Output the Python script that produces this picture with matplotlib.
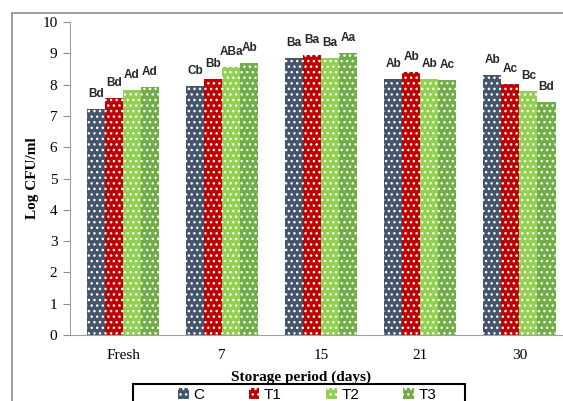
import numpy as np
import matplotlib.pyplot as plt
from matplotlib.patches import Rectangle

# data
periods = ['Fresh', '7', '15', '21', '30']
groups = ['C', 'T1', 'T2', 'T3']
C  = [7.23, 7.94, 8.84, 8.19, 8.30]
T1 = [7.57, 8.19, 8.94, 8.41, 8.01]
T2 = [7.83, 8.55, 8.84, 8.19, 7.80]
T3 = [7.91, 8.69, 9.01, 8.16, 7.45]
letters_C  = ['Bd', 'Cb', 'Ba', 'Ab', 'Ab']
letters_T1 = ['Bd', 'Bb', 'Ba', 'Ab', 'Ac']
letters_T2 = ['Ad', 'ABa', 'Ba', 'Ab', 'Bc']
letters_T3 = ['Ad', 'Ab', 'Aa', 'Ac', 'Bd']

colors = ['#44546A', '#C00000', '#92D050', '#70AD47']
serif = 'Liberation Serif'
sans = 'Liberation Sans'

plt.rcParams['hatch.linewidth'] = 1.0
fig = plt.figure(figsize=(5.63, 4.01), dpi=100)
ax = fig.add_axes([70/563, 1 - 335/401, 499/563, 313/401])

# outer chart frame (cropped at right and bottom)
fig.add_artist(Rectangle((12/563, -0.1), 1.2, 1 - 13/401 + 0.1,
                         transform=fig.transFigure, fill=False,
                         edgecolor='#8c8c8c', linewidth=1.2))

x = np.arange(len(periods))
w = 0.182
series = [C, T1, T2, T3]
letters = [letters_C, letters_T1, letters_T2, letters_T3]
for i, (vals, lab, col) in enumerate(zip(series, groups, colors)):
    bars = ax.bar(x + (i - 1.5) * w, vals, w, color=col, edgecolor='white',
                  linewidth=0, hatch='...', label=lab)
    for b, t in zip(bars, letters[i]):
        ax.annotate(t, (b.get_x() + b.get_width() / 2, b.get_height()),
                    xytext=(0, 6.5), textcoords='offset points',
                    ha='center', va='bottom', fontsize=8.5,
                    fontweight='bold', family=sans, color='#262626')

ax.set_xlim(-0.535, 4.5)
ax.set_ylim(0, 10)
ax.set_yticks(range(11))
ax.set_xticks(x)
ax.set_xticklabels(periods, family=serif, fontsize=11)
for t in ax.get_yticklabels():
    t.set_family(serif)
    t.set_fontsize(11)
ax.tick_params(axis='x', length=0, pad=10)
ax.tick_params(axis='y', length=5, color='#8c8c8c', pad=4)
for s in ['top', 'right']:
    ax.spines[s].set_visible(False)
for s in ['left', 'bottom']:
    ax.spines[s].set_color('#a0a0a0')

ax.set_ylabel('Log CFU/ml', family=serif, fontweight='bold', fontsize=11)
ax.yaxis.set_label_coords(-0.063, 0.5)
ax.set_xlabel('Storage period (days)', family=serif, fontweight='bold',
              fontsize=11)
ax.xaxis.set_label_coords((301 - 70) / 499, -0.115)

# legend box, cut by the bottom edge like the reference
fig.add_artist(Rectangle((133/563, -0.1), (465 - 133)/563, 0.1 + 1 - 384/401,
                         transform=fig.transFigure, fill=False,
                         edgecolor='black', linewidth=1.5))
leg = fig.legend(loc='upper left', bbox_to_anchor=(178/563, 1 - 388/401),
                 ncol=4, frameon=False,
                 prop={'family': sans, 'size': 11}, handlelength=0.7,
                 handleheight=0.7, columnspacing=2.9, handletextpad=0.3,
                 borderpad=0, borderaxespad=0)

fig.savefig('out.png', dpi=100)
